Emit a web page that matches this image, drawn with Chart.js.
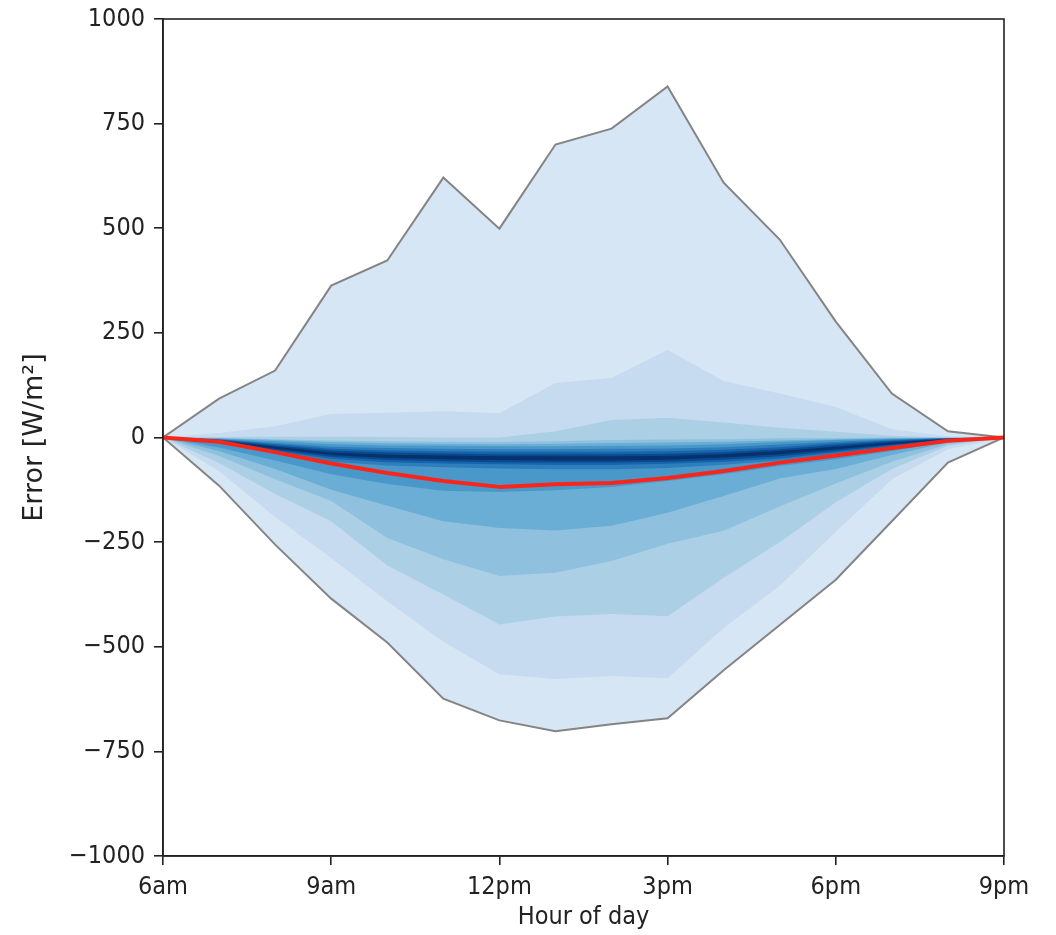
<!DOCTYPE html>
<html>
<head>
<meta charset="utf-8">
<script src="https://cdn.jsdelivr.net/npm/chart.js@4.4.1/dist/chart.umd.min.js"></script>
<style>
  html, body { margin: 0; padding: 0; background: #ffffff; }
  #wrap { width: 1056px; height: 935px; position: relative; }
</style>
</head>
<body>
<div id="wrap"><canvas id="c" width="1056" height="935"></canvas></div>
<script>
// ---- data (hour of day, 6am .. 9pm) ----
const hours = [6, 7, 8, 9, 10, 11, 12, 13, 14, 15, 16, 17, 18, 19, 20, 21];

// band edges, outermost (0) to innermost (core)
const upper0 = [0, 93, 160, 363, 423, 621, 499, 700, 738, 839, 609, 473, 277, 105, 15, 0];
const upper1 = [0, 11, 27, 56, 59, 63, 58, 130, 142, 209, 135, 105, 73, 20, 3, 0];
const upper2 = [0, 1, 2, 2, 1, 0, 0, 15, 42, 47, 36, 23, 14, 4, 0, 0];
const upper3 = [0, -1, -4, -7, -9, -10, -11, -9, -6, -5, -4, -2, -1, 0, 0, 0];
const upper4 = [0, -2, -6, -11, -14, -15, -16, -15, -13, -12, -10, -7, -4, -2, -1, 0];
const upper5 = [0, -3, -9, -16, -19, -20, -21, -21, -20, -19, -16, -11, -6, -3, -1, 0];
const upper6 = [0, -4, -13, -22, -25, -27, -28, -28, -27, -26, -23, -17, -10, -5, -2, 0];
const upper7 = [0, -5, -16, -27, -31, -33, -34, -34, -34, -33, -29, -23, -14, -7, -2, 0];
const upper8 = [0, -6, -19, -31, -36, -38, -40, -40, -40, -39, -35, -28, -18, -9, -3, 0];
const upper9 = [0, -7, -22, -36, -41, -43, -45, -45, -45, -44, -40, -32, -22, -12, -4, 0];

const lower9 = [0, -9, -27, -42, -49, -52, -54, -55, -55, -53, -48, -40, -28, -16, -5, 0];
const lower8 = [0, -10, -30, -46, -54, -57, -59, -60, -60, -58, -53, -45, -32, -18, -6, 0];
const lower7 = [0, -11, -33, -51, -59, -62, -64, -66, -66, -63, -58, -50, -36, -21, -7, 0];
const lower6 = [0, -13, -38, -58, -67, -71, -74, -76, -76, -73, -65, -55, -40, -23, -8, 0];
const lower5 = [0, -24, -55, -88, -111, -127, -130, -126, -118, -104, -88, -68, -52, -32, -10, 0];
const lower4 = [0, -32, -75, -125, -163, -200, -216, -222, -211, -180, -140, -98, -75, -42, -12, 0];
const lower3 = [0, -44, -100, -152, -240, -291, -331, -323, -295, -254, -223, -165, -110, -58, -16, 0];
const lower2 = [0, -61, -135, -200, -306, -375, -447, -428, -422, -427, -335, -250, -155, -75, -20, 0];
const lower1 = [0, -80, -190, -288, -391, -488, -566, -577, -570, -575, -455, -354, -225, -100, -28, 0];
const lower0 = [0, -115, -256, -385, -490, -624, -676, -702, -685, -671, -556, -448, -340, -200, -60, 0];

// mean error (red line)
const meanError = [0, -10, -35, -62, -85, -104, -118, -112, -109, -97, -80, -60, -43, -25, -8, 0];

// axis ticks
const xTickHours = [6, 9, 12, 15, 18, 21];
const xTickLabels = ['6am', '9am', '12pm', '3pm', '6pm', '9pm'];
const yTicks = [-1000, -750, -500, -250, 0, 250, 500, 750, 1000];

// ---- styling ----
const bandColors = ['#d6e6f4', '#c6dbef', '#abd0e6', '#8fc1de', '#6aaed6',
                    '#4a98c9', '#2e7ebc', '#1764ab', '#084a91', '#08306b'];
const uppers = [upper0, upper1, upper2, upper3, upper4, upper5, upper6, upper7, upper8, upper9];
const lowers = [lower0, lower1, lower2, lower3, lower4, lower5, lower6, lower7, lower8, lower9];

const toXY = arr => hours.map((h, i) => ({ x: h, y: arr[i] }));
const FONT = "'DejaVu Sans Condensed', 'DejaVu Sans', sans-serif";
const FONT_Y = "'DejaVu Sans', sans-serif";
const INK = '#222222';

const datasets = [];
uppers.forEach((up, k) => {
  const outer = k === 0;
  datasets.push({
    data: toXY(up), order: 100 - k, fill: false,
    borderColor: outer ? '#848484' : 'rgba(0,0,0,0)', borderWidth: outer ? 2 : 0,
    pointRadius: 0, tension: 0
  });
  datasets.push({
    data: toXY(lowers[k]), order: 100 - k, fill: '-1',
    backgroundColor: bandColors[k],
    borderColor: outer ? '#848484' : 'rgba(0,0,0,0)', borderWidth: outer ? 2 : 0,
    pointRadius: 0, tension: 0
  });
});
datasets.push({
  data: toXY(meanError), order: 0, fill: false,
  borderColor: '#f8261a', borderWidth: 4, pointRadius: 0, tension: 0,
  borderJoinStyle: 'round', borderCapStyle: 'round'
});

const frame = {
  id: 'frame',
  afterDraw(chart) {
    const { ctx, chartArea: a } = chart;
    ctx.save();
    ctx.strokeStyle = INK;
    ctx.lineWidth = 1.6;
    ctx.strokeRect(a.left, a.top, a.right - a.left, a.bottom - a.top);
    ctx.restore();
  }
};

new Chart(document.getElementById('c'), {
  type: 'line',
  data: { datasets },
  plugins: [frame],
  options: {
    responsive: false,
    animation: false,
    events: [],
    layout: { padding: { left: 0, top: 19, right: 52, bottom: 0 } },
    plugins: {
      legend: { display: false },
      tooltip: { enabled: false },
      filler: { drawTime: 'beforeDatasetsDraw' }
    },
    scales: {
      x: {
        type: 'linear', min: 6, max: 21,
        afterFit(s) { s.height = 79; s.paddingLeft = 0; s.paddingRight = 0; },
        afterBuildTicks(s) { s.ticks = xTickHours.map(v => ({ value: v })); },
        ticks: {
          autoSkip: false, maxRotation: 0, padding: 7,
          color: INK, font: { family: FONT, size: 25 },
          callback: v => xTickLabels[xTickHours.indexOf(v)]
        },
        grid: { drawOnChartArea: false, drawTicks: true, tickLength: 9, color: INK, lineWidth: 1.6 },
        border: { display: true, color: INK, width: 1.6 },
        title: { display: true, text: 'Hour of day', color: INK,
                 font: { family: FONT, size: 25 }, padding: { top: 0, bottom: 3 } }
      },
      y: {
        type: 'linear', min: -1000, max: 1000,
        afterFit(s) { s.width = 163; s.paddingTop = 0; s.paddingBottom = 0; },
        afterBuildTicks(s) { s.ticks = yTicks.map(v => ({ value: v })); },
        ticks: {
          autoSkip: false, padding: 9,
          color: INK, font: { family: FONT, size: 25 },
          callback: v => (v < 0 ? '\u2212' + Math.abs(v) : String(v))
        },
        grid: { drawOnChartArea: false, drawTicks: true, tickLength: 9, color: INK, lineWidth: 1.6 },
        border: { display: true, color: INK, width: 1.6 },
        title: { display: true, text: 'Error [W/m\u00B2]', color: INK,
                 font: { family: FONT_Y, size: 27 }, padding: { top: 19, bottom: 0 } }
      }
    }
  }
});
</script>
</body>
</html>
